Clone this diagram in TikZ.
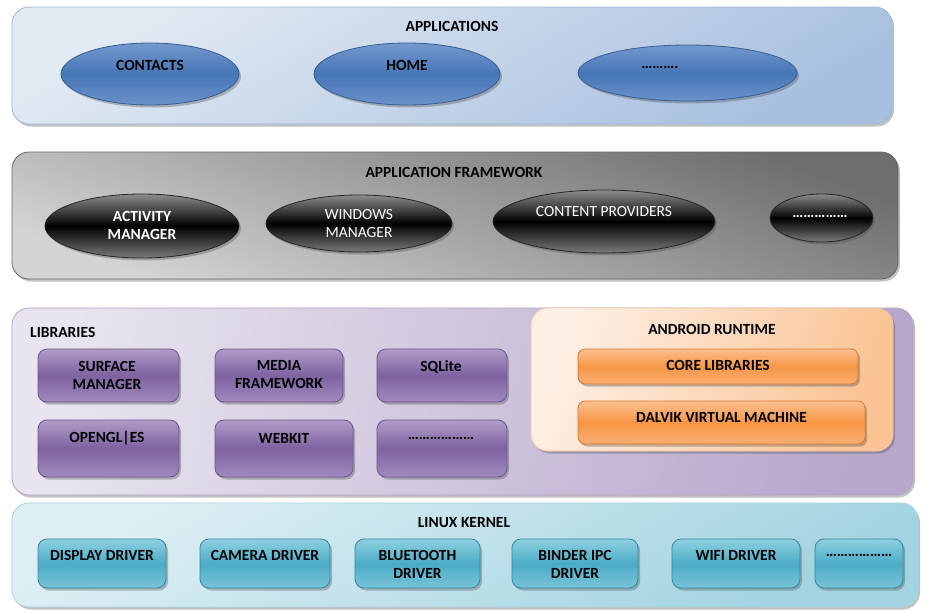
\documentclass[tikz,border=0pt]{standalone}
\usepackage{fontspec}
\setmainfont{Carlito}
\usetikzlibrary{shapes.geometric,shadows}
\definecolor{appA}{HTML}{E2EAF3}
\definecolor{appB}{HTML}{A8C0DF}
\definecolor{appBd}{HTML}{9FB7D6}
\definecolor{frmA}{HTML}{6E6E6E}
\definecolor{frmB}{HTML}{D4D4D4}
\definecolor{libA}{HTML}{E9E4EF}
\definecolor{libB}{HTML}{B6A7CB}
\definecolor{libBd}{HTML}{B0A2C4}
\definecolor{artA}{HTML}{FEEFE4}
\definecolor{artB}{HTML}{FAC393}
\definecolor{artBd}{HTML}{F6C8A3}
\definecolor{lnxA}{HTML}{DDEFF4}
\definecolor{lnxB}{HTML}{A2D3E0}
\definecolor{lnxBd}{HTML}{A9D3DF}
\definecolor{blueT}{HTML}{7398CE}
\definecolor{blueM}{HTML}{4676B6}
\definecolor{blueB}{HTML}{6B92CA}
\definecolor{blueD}{HTML}{385E92}
\definecolor{purT}{HTML}{AE9CC8}
\definecolor{purM}{HTML}{7F62A1}
\definecolor{purB}{HTML}{A08ABF}
\definecolor{purD}{HTML}{6C5689}
\definecolor{orT}{HTML}{FBC090}
\definecolor{orM}{HTML}{F79646}
\definecolor{orB}{HTML}{F9AE72}
\definecolor{orD}{HTML}{D9772C}
\definecolor{tlT}{HTML}{8ED0E0}
\definecolor{tlM}{HTML}{4BACC6}
\definecolor{tlB}{HTML}{78C3D7}
\definecolor{tlD}{HTML}{37889E}
\begin{document}
\begin{tikzpicture}[x=1pt,y=-1pt,
  font=\fontsize{15.5}{18}\selectfont\bfseries,
  shad/.style={drop shadow={shadow xshift=2pt,shadow yshift=-2.5pt,opacity=0.35,fill=black!70}},
  panel/.style={shad, draw, line width=0.8pt, rounded corners=17pt, inner sep=0pt},
  appell/.style={ellipse, shad, draw=blueD, line width=0.8pt, top color=blueT, bottom color=blueB, middle color=blueM, inner sep=0pt},
  frmell/.style={ellipse, shad, draw=black!85, line width=0.8pt, top color=black!45, bottom color=black!52, middle color=black, inner sep=0pt},
  libbox/.style={shad, draw=purD, line width=0.8pt, rounded corners=9pt, top color=purT, bottom color=purB, middle color=purM, inner sep=0pt},
  orbox/.style={shad, draw=orD, line width=0.8pt, rounded corners=7pt, top color=orT, bottom color=orB, middle color=orM, inner sep=0pt},
  drvbox/.style={shad, draw=tlD, line width=0.8pt, rounded corners=9pt, top color=tlT, bottom color=tlB, middle color=tlM, inner sep=0pt},
  lbl/.style={inner sep=0pt, align=center, text=black},
  wlbl/.style={inner sep=0pt, align=center, text=white},
  wlblr/.style={inner sep=0pt, align=center, text=white, font=\fontsize{15.5}{18}\selectfont\mdseries},
]
\useasboundingbox (0,0) rectangle (927,613);

% ---------------- APPLICATIONS ----------------
\node[panel, draw=appBd, top color=appA, bottom color=appB, shading angle=30,
      minimum width=880pt, minimum height=117pt] (apps) at (452,65.5) {};
\node[lbl] (appsT) at (452,26) {APPLICATIONS};
\node[appell, minimum width=178pt, minimum height=62pt] (contacts) at (150,74) {};
\node[lbl] (contactsT) at (150,65) {CONTACTS};
\node[appell, minimum width=186pt, minimum height=62pt] (home) at (407,74) {};
\node[lbl] (homeT) at (407,65) {HOME};
\node[appell, minimum width=219pt, minimum height=56pt] (appdots) at (687.5,73) {};
\node[lbl] (appdotsT) at (660,67) {……….};

% ---------------- APPLICATION FRAMEWORK ----------------
\node[panel, draw=black!60, top color=frmA, bottom color=frmB, shading angle=-20,
      minimum width=886pt, minimum height=127pt] (frm) at (455,215.5) {};
\node[lbl] (frmT) at (454,172) {APPLICATION FRAMEWORK};
\node[frmell, minimum width=194pt, minimum height=64pt] (activity) at (142,226) {};
\node[wlbl] (activityT) at (142,225) {ACTIVITY\\MANAGER};
\node[frmell, minimum width=186pt, minimum height=57pt] (windows) at (359,223.5) {};
\node[wlblr] (windowsT) at (359,224) {WINDOWS\\MANAGER};
\node[frmell, minimum width=222pt, minimum height=63pt] (content) at (604,221.5) {};
\node[wlblr] (contentT) at (604,212) {CONTENT PROVIDERS};
\node[frmell, minimum width=103pt, minimum height=48pt] (frmdots) at (821.5,218) {};
\node[wlbl] (frmdotsT) at (820,216) {……………};

% ---------------- LIBRARIES ----------------
\node[panel, draw=libBd, left color=libA, right color=libB, shading angle=80,
      minimum width=901pt, minimum height=187pt] (libs) at (462.5,401.5) {};
\node[lbl, anchor=west] (libsT) at (30,332) {LIBRARIES};
\node[libbox, minimum width=141pt, minimum height=53pt] (surface) at (108.5,375.5) {};
\node[lbl] (surfaceT) at (107,375) {SURFACE\\MANAGER};
\node[libbox, minimum width=128pt, minimum height=53pt] (media) at (279,375.5) {};
\node[lbl] (mediaT) at (279,375) {MEDIA\\FRAMEWORK};
\node[libbox, minimum width=130pt, minimum height=53pt] (sqlite) at (442,375.5) {};
\node[lbl] (sqliteT) at (441,367) {SQLite};
\node[libbox, minimum width=141pt, minimum height=57pt] (opengl) at (108.5,448.5) {};
\node[lbl] (openglT) at (107,438) {OPENGL|ES};
\node[libbox, minimum width=138pt, minimum height=57pt] (webkit) at (284,448.5) {};
\node[lbl] (webkitT) at (284,438) {WEBKIT};
\node[libbox, minimum width=130pt, minimum height=57pt] (libdots) at (442,448.5) {};
\node[lbl] (libdotsT) at (441,438) {………………};

% ---------------- ANDROID RUNTIME ----------------
\node[panel, draw=artBd, left color=artA, right color=artB, shading angle=70,
      minimum width=362pt, minimum height=143pt] (art) at (712,379.5) {};
\node[lbl] (artT) at (712,329) {ANDROID RUNTIME};
\node[orbox, minimum width=280pt, minimum height=35pt] (core) at (718,366.5) {};
\node[lbl] (coreT) at (718,365) {CORE LIBRARIES};
\node[orbox, minimum width=287pt, minimum height=43pt] (dalvik) at (721.5,422.5) {};
\node[lbl] (dalvikT) at (721.5,417) {DALVIK VIRTUAL MACHINE};

% ---------------- LINUX KERNEL ----------------
\node[panel, draw=lnxBd, top color=lnxA, bottom color=lnxB, shading angle=30,
      minimum width=906pt, minimum height=104pt] (lnx) at (465,555) {};
\node[lbl] (lnxT) at (464,523) {LINUX KERNEL};
\node[drvbox, minimum width=128pt, minimum height=49pt] (display) at (102,563.5) {};
\node[lbl] (displayT) at (102,555) {DISPLAY DRIVER};
\node[drvbox, minimum width=130pt, minimum height=49pt] (camera) at (265,563.5) {};
\node[lbl] (cameraT) at (265,555) {CAMERA DRIVER};
\node[drvbox, minimum width=125pt, minimum height=49pt] (bluetooth) at (417.5,563.5) {};
\node[lbl] (bluetoothT) at (417.5,564) {BLUETOOTH\\DRIVER};
\node[drvbox, minimum width=126pt, minimum height=49pt] (binder) at (575,563.5) {};
\node[lbl] (binderT) at (575,564) {BINDER IPC\\DRIVER};
\node[drvbox, minimum width=128pt, minimum height=49pt] (wifi) at (736,563.5) {};
\node[lbl] (wifiT) at (736,555) {WIFI DRIVER};
\node[drvbox, minimum width=88pt, minimum height=49pt] (drvdots) at (859,563.5) {};
\node[lbl] (drvdotsT) at (859,555) {………………};
\end{tikzpicture}
\end{document}
